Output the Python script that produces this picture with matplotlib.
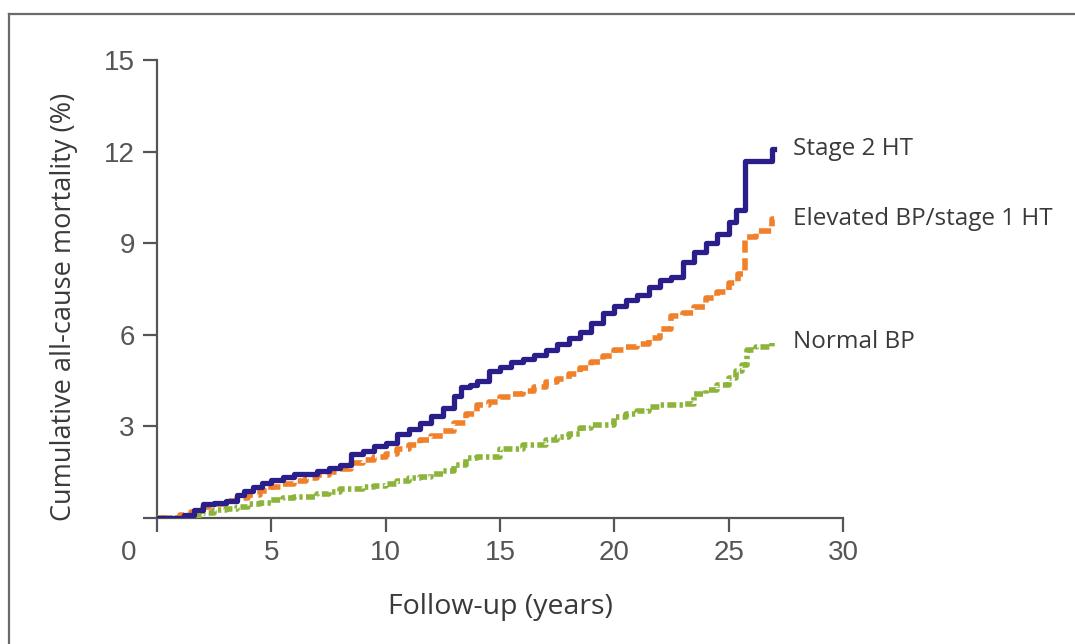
import matplotlib
matplotlib.use("Agg")
import matplotlib.pyplot as plt
from matplotlib.lines import Line2D

# Stage 2 HT
stage2_t = [0, 1.2, 1.6, 2.0, 2.5, 3.0, 3.5, 3.8, 4.2, 4.6,
            5.0, 5.5, 6.0, 7.0, 7.5, 8.0, 8.5, 9.0, 9.5, 10.0,
            10.5, 11.0, 11.5, 12.0, 12.5, 13.0, 13.3, 13.7, 14.0, 14.5,
            15.0, 15.5, 16.0, 16.5, 17.0, 17.5, 18.0, 18.5, 19.0, 19.5,
            20.0, 20.5, 21.0, 21.5, 22.0, 22.5, 23.0, 23.5, 24.0, 24.5,
            25.0, 25.3, 25.7, 26.9, 27.0]
stage2_v = [0, 0.1, 0.25, 0.45, 0.5, 0.55, 0.75, 0.9, 1.0, 1.15,
            1.25, 1.35, 1.45, 1.55, 1.65, 1.75, 2.1, 2.2, 2.35, 2.45,
            2.75, 2.9, 3.1, 3.35, 3.6, 4.0, 4.3, 4.35, 4.5, 4.8,
            4.95, 5.1, 5.2, 5.35, 5.5, 5.7, 5.9, 6.1, 6.4, 6.7,
            6.95, 7.15, 7.3, 7.55, 7.8, 7.9, 8.4, 8.7, 9.0, 9.3,
            9.7, 10.1, 11.7, 12.1, 12.1]

# Elevated BP / stage 1 HT
elev_t = [0, 1.0, 1.5, 2.0, 2.5, 3.0, 3.5, 4.0, 4.5, 5.0,
          5.5, 6.0, 6.5, 7.0, 7.5, 8.0, 8.5, 9.0, 9.5, 10.0,
          10.5, 11.0, 11.5, 12.0, 12.5, 13.0, 13.5, 14.0, 14.5, 15.0,
          15.5, 16.0, 16.5, 17.0, 17.5, 18.0, 18.5, 19.0, 19.5, 20.0,
          20.5, 21.0, 21.5, 22.0, 22.5, 23.0, 23.5, 24.0, 24.5, 25.0,
          25.4, 25.7, 26.2, 26.9, 27.0]
elev_v = [0, 0.1, 0.2, 0.35, 0.45, 0.55, 0.65, 0.75, 0.9, 1.0,
          1.1, 1.2, 1.3, 1.4, 1.5, 1.6, 1.8, 1.9, 2.0, 2.1,
          2.25, 2.4, 2.55, 2.7, 2.85, 3.1, 3.4, 3.7, 3.8, 3.95,
          4.05, 4.15, 4.3, 4.45, 4.55, 4.7, 4.9, 5.1, 5.3, 5.5,
          5.6, 5.7, 5.9, 6.2, 6.6, 6.7, 6.9, 7.2, 7.4, 7.7,
          8.0, 9.2, 9.4, 9.8, 9.8]

# Normal BP
normal_t = [0, 1.5, 2.0, 2.5, 3.0, 3.5, 4.0, 4.5, 5.0, 5.5,
            6.0, 7.0, 7.5, 8.0, 9.0, 9.5, 10.0, 10.5, 11.0, 11.5,
            12.0, 12.5, 13.0, 13.5, 14.0, 15.0, 16.0, 17.0, 17.5, 18.0,
            18.5, 19.0, 20.0, 20.5, 21.0, 21.5, 22.0, 23.0, 23.5, 24.0,
            24.5, 25.0, 25.3, 25.6, 25.8, 26.2, 26.9, 27.0]
normal_v = [0, 0.05, 0.15, 0.25, 0.3, 0.35, 0.45, 0.5, 0.6, 0.65,
            0.7, 0.8, 0.85, 0.95, 1.0, 1.05, 1.1, 1.2, 1.3, 1.35,
            1.45, 1.55, 1.75, 1.95, 2.0, 2.25, 2.4, 2.55, 2.65, 2.75,
            2.95, 3.05, 3.3, 3.4, 3.5, 3.65, 3.7, 3.75, 4.05, 4.2,
            4.35, 4.6, 4.8, 5.0, 5.5, 5.6, 5.75, 5.75]

labels = ['Stage 2 HT', 'Elevated BP/stage 1 HT', 'Normal BP']
x_ticks = [0, 5, 10, 15, 20, 25, 30]
y_ticks = [0, 3, 6, 9, 12, 15]

navy = '#2a1f8a'
orange = '#f0802a'
green = '#8cb43a'
axis_col = '#555555'
text_col = '#3a3a3a'

fig = plt.figure(figsize=(10.75, 6.44), dpi=100)
ax = fig.add_axes([157 / 1075, 1 - 518 / 644, (843 - 157) / 1075, (518 - 60) / 644])

ax.step(normal_t, normal_v, where='post', color=green, linewidth=4,
        dashes=(1.6, 0.6, 0.6, 0.6), zorder=3)
ax.step(elev_t, elev_v, where='post', color=orange, linewidth=4,
        dashes=(2.2, 1.0), zorder=4)
ax.step(stage2_t, stage2_v, where='post', color=navy, linewidth=3.8, zorder=5)

# end labels
for txt, yv in zip(labels, [stage2_v[-1], elev_v[-1], normal_v[-1]]):
    ax.text(27.8, yv, txt, fontsize=17.5, family='Open Sans', color=text_col,
            va='center', ha='left', clip_on=False)

ax.set_xlim(0, 30)
ax.set_ylim(0, 15)
ax.set_xticks(x_ticks)
ax.set_xticklabels([''] + [str(t) for t in x_ticks[1:]])
ax.set_yticks(y_ticks)
ax.set_yticklabels([''] + [str(t) for t in y_ticks[1:]])
ax.text(-1.25, -1.15, '0', fontsize=20, family='Liberation Sans', color=axis_col,
        ha='center', va='center', clip_on=False)

for side in ['top', 'right']:
    ax.spines[side].set_visible(False)
for side in ['left', 'bottom']:
    ax.spines[side].set_color(axis_col)
    ax.spines[side].set_linewidth(1.6)
ax.tick_params(axis='both', direction='out', length=10, width=1.6, color=axis_col,
               labelsize=20, labelcolor=axis_col, pad=6)
for lab in ax.get_xticklabels() + ax.get_yticklabels():
    lab.set_family('Liberation Sans')

ax.set_xlabel('Follow-up (years)', fontsize=20.5, family='Open Sans', color=text_col)
ax.xaxis.set_label_coords(0.5, -0.164)
ax.set_ylabel('Cumulative all-cause mortality (%)', fontsize=19.5, family='Open Sans',
              color=text_col)
ax.yaxis.set_label_coords(-0.115, 0.46)

# outer frame (clipped at right and bottom like the source image)
fig.add_artist(Line2D([9 / 1075, 1.0], [1 - 14 / 644, 1 - 14 / 644],
                      color='#6a6a6a', linewidth=1.6))
fig.add_artist(Line2D([9 / 1075, 9 / 1075], [0, 1 - 14 / 644],
                      color='#6a6a6a', linewidth=1.6))

fig.savefig('out.png', dpi=100)
